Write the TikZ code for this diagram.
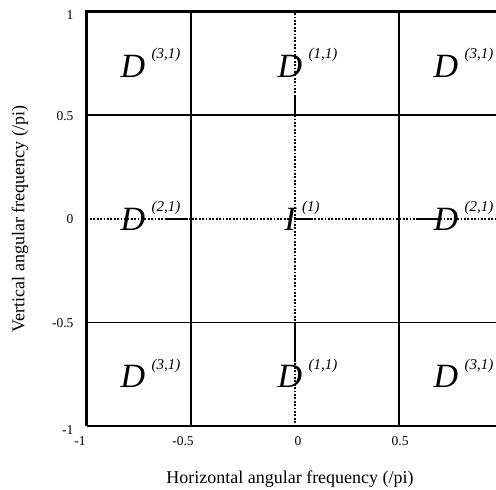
\documentclass[tikz,border=0pt]{standalone}
\usepackage{fontspec}
\setmainfont{Liberation Serif}
\usetikzlibrary{positioning}

\begin{document}
\begin{tikzpicture}[
        x=208.5pt, y=207.5pt,
        gridline/.style={line width=1.6pt, black},
        frame/.style={line width=2.8pt, black},
        zeroline/.style={line width=1.5pt, black, dash pattern=on 1.8pt off 1.6pt},
        band/.style={font=\fontsize{34}{34}\selectfont\itshape, inner sep=0pt},
        idx/.style={font=\fontsize{15}{15}\selectfont\itshape, inner sep=0pt},
        ticklab/.style={font=\fontsize{13.5}{13.5}\selectfont, inner sep=0pt},
        axtitle/.style={font=\fontsize{18}{18}\selectfont, inner sep=0pt}
    ]
        \useasboundingbox (-1.415,-1.306) rectangle (0.964,1.055);
        \clip (-1.415,-1.306) rectangle (0.964,1.055);

        % grid
        \draw[gridline] (-0.5,-1) -- (-0.5,1);
        \draw[gridline] (0.5,-1) -- (0.5,1);
        \draw[gridline] (-1,0.5) -- (1,0.5);
        \draw[gridline] (-1,-0.5) -- (1,-0.5);
        \draw[zeroline] (0,-1) -- (0,1);
        \draw[zeroline] (-1,0) -- (1,0);
        \draw[gridline] (-0.614,0) -- (-0.513,0);
        \draw[gridline] (0,0) -- (0.086,0);
        \draw[gridline] (0.585,0) -- (0.681,0);
        \draw[gridline] (0,0.588) -- (0,0.496);
        \draw[gridline] (0,-0.501) -- (0,-0.689);
        \draw[line width=2.1pt] (-1,-1) -- (1,-1) -- (1,1);
        \draw[frame] (-1,-1) -- (-1,1) -- (1,1);

        % bands
        \node[band] (d1) at (-0.777,0.737) {D};
        \node[idx, right=6pt of d1.north east] (d1s) {(3,1)};
        \node[band] (d2) at (-0.024,0.737) {D};
        \node[idx, right=6pt of d2.north east] (d2s) {(1,1)};
        \node[band] (d3) at (0.724,0.737) {D};
        \node[idx, right=6pt of d3.north east] (d3s) {(3,1)};
        \node[band] (d4) at (-0.777,0) {D};
        \node[idx, right=6pt of d4.north east] (d4s) {(2,1)};
        \node[band] (i0) at (-0.024,0) {I};
        \node[idx, right=6pt of i0.north east] (i0s) {(1)};
        \node[band] (d6) at (0.724,0) {D};
        \node[idx, right=6pt of d6.north east] (d6s) {(2,1)};
        \node[band] (d7) at (-0.777,-0.761) {D};
        \node[idx, right=6pt of d7.north east] (d7s) {(3,1)};
        \node[band] (d8) at (-0.024,-0.761) {D};
        \node[idx, right=6pt of d8.north east] (d8s) {(1,1)};
        \node[band] (d9) at (0.724,-0.761) {D};
        \node[idx, right=6pt of d9.north east] (d9s) {(3,1)};

        % ticks
        \node[ticklab, anchor=east] (y1) at (-1.062,0.983) {1};
        \node[ticklab, anchor=east] (y2) at (-1.062,0.496) {0.5};
        \node[ticklab, anchor=east] (y3) at (-1.062,0) {0};
        \node[ticklab, anchor=east] (y4) at (-1.062,-0.501) {-0.5};
        \node[ticklab, anchor=east] (y5) at (-1.062,-1.017) {-1};
        \node[ticklab] (x1) at (-1.031,-1.070) {-1};
        \node[ticklab] (x2) at (-0.537,-1.070) {-0.5};
        \node[ticklab] (x3) at (0.014,-1.070) {0};
        \node[ticklab] (x4) at (0.504,-1.070) {0.5};

        \node[axtitle] (xt) at (-0.024,-1.253) {Horizontal angular frequency (/pi)};
        \node[axtitle, rotate=90] (yt) at (-1.319,0) {Vertical angular frequency (/pi)};
    \end{tikzpicture}
\end{document}
